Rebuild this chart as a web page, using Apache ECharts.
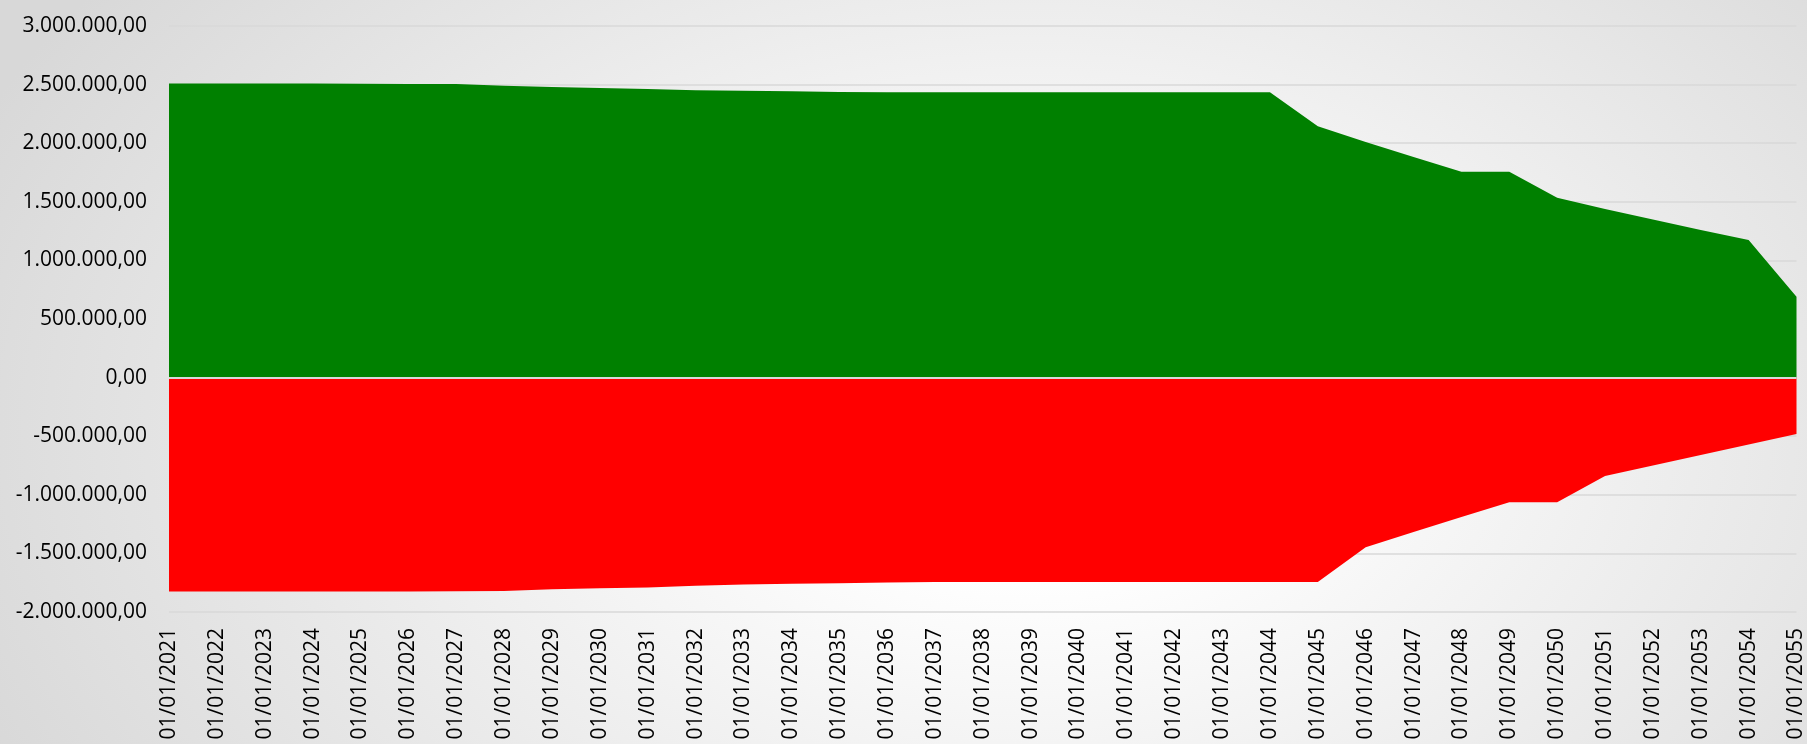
<!DOCTYPE html>
<html>
<head>
<meta charset="utf-8">
<script src="https://cdn.jsdelivr.net/npm/echarts@6/dist/echarts.min.js"></script>
<style>
  html, body { margin: 0; padding: 0; }
  #chart {
    width: 1807px; height: 744px;
    background: radial-gradient(ellipse 1150px 760px at 57% 58%, #ffffff 0%, #ffffff 18%, #d8d8d8 100%);
  }
</style>
</head>
<body>
<div id="chart"></div>
<script>
const categories = [
  '01/01/2021','01/01/2022','01/01/2023','01/01/2024','01/01/2025','01/01/2026','01/01/2027',
  '01/01/2028','01/01/2029','01/01/2030','01/01/2031','01/01/2032','01/01/2033','01/01/2034',
  '01/01/2035','01/01/2036','01/01/2037','01/01/2038','01/01/2039','01/01/2040','01/01/2041',
  '01/01/2042','01/01/2043','01/01/2044','01/01/2045','01/01/2046','01/01/2047','01/01/2048',
  '01/01/2049','01/01/2050','01/01/2051','01/01/2052','01/01/2053','01/01/2054','01/01/2055'
];

const positiveValues = [
  2510000, 2510000, 2510000, 2510000, 2508000, 2506000, 2505000,
  2490000, 2480000, 2472000, 2462000, 2452000, 2447000, 2443000,
  2437000, 2435000, 2435000, 2435000, 2435000, 2435000, 2435000,
  2435000, 2435000, 2435000, 2144000, 2010000, 1882000, 1757000,
  1757000, 1535000, 1438000, 1350000, 1259000, 1174000, 690000
];

const negativeValues = [
  -1825000, -1825000, -1825000, -1825000, -1825000, -1825000, -1822000,
  -1820000, -1805000, -1798000, -1790000, -1775000, -1765000, -1760000,
  -1755000, -1748000, -1745000, -1745000, -1745000, -1745000, -1745000,
  -1745000, -1745000, -1745000, -1745000, -1448000, -1318000, -1190000,
  -1064000, -1064000, -840000, -750000, -660000, -571000, -481000
];

const yTicks = { min: -2000000, max: 3000000, interval: 500000 };

function fmtBR(v) {
  const neg = v < 0;
  const s = Math.abs(Math.round(v)).toString().replace(/\B(?=(\d{3})+(?!\d))/g, '.');
  return (neg ? '-' : '') + s + ',00';
}

const chart = echarts.init(document.getElementById('chart'), null, { renderer: 'canvas' });
const font = '"Open Sans", "Noto Sans", sans-serif';

chart.setOption({
  backgroundColor: 'transparent',
  animation: false,
  grid: { left: 169, right: 7, top: 26, bottom: 132, containLabel: false },
  xAxis: {
    type: 'category',
    data: categories,
    boundaryGap: false,
    axisLine: { show: false, onZero: false },
    axisTick: { show: false },
    splitLine: { show: false },
    axisLabel: {
      interval: 0, rotate: 90, margin: 16,
      color: '#000', fontSize: 21, fontFamily: font
    }
  },
  yAxis: {
    type: 'value',
    min: yTicks.min, max: yTicks.max, interval: yTicks.interval,
    axisLine: { show: false },
    axisTick: { show: false },
    splitLine: { show: true, lineStyle: { color: '#d9d9d9', width: 1.5 } },
    axisLabel: {
      margin: 22, color: '#000', fontSize: 21, fontFamily: font,
      formatter: fmtBR
    }
  },
  series: [
    {
      type: 'line',
      data: positiveValues,
      symbol: 'none',
      lineStyle: { width: 0, color: '#008000' },
      itemStyle: { color: '#008000' },
      areaStyle: { color: '#008000', opacity: 1 },
      markLine: {
        silent: true, symbol: 'none', label: { show: false },
        lineStyle: { color: '#d9d9d9', width: 2, type: 'solid' },
        data: [{ yAxis: 0 }]
      },
      z: 2
    },
    {
      type: 'line',
      data: negativeValues,
      symbol: 'none',
      lineStyle: { width: 0, color: '#ff0000' },
      itemStyle: { color: '#ff0000' },
      areaStyle: { color: '#ff0000', opacity: 1 },
      z: 1
    }
  ]
});
</script>
</body>
</html>
